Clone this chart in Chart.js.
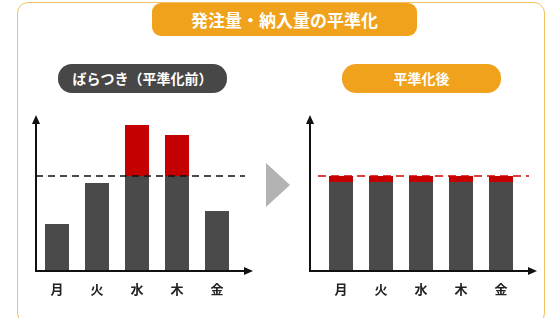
<!DOCTYPE html>
<html>
<head>
<meta charset="utf-8">
<script src="https://cdn.jsdelivr.net/npm/chart.js@4/dist/chart.umd.min.js"></script>
<style>
  body { margin: 0; width: 557px; height: 318px; background: #fff; position: relative; overflow: hidden;
         font-family: "Noto Sans CJK JP", "Noto Sans", sans-serif; }
  .frame { position: absolute; left: 17px; top: 2px; width: 526px; height: 320px;
           border: 1.5px solid #f5c160; border-radius: 11px; background: #fff; }
  .badge { position: absolute; color: #fff; font-weight: bold; text-align: center; }
  #title { left: 152px; top: 3px; width: 265px; height: 33px; line-height: 33px; font-size: 17px;
           background: #f0a21c; border-radius: 9px; }
  #before { left: 58px; top: 64px; width: 169px; height: 29px; line-height: 29px; font-size: 14px;
            background: #474747; border-radius: 14px; }
  #after { left: 342px; top: 64px; width: 159px; height: 29px; line-height: 29px; font-size: 14px;
           background: #f0a21c; border-radius: 14px; }
  .arrow { position: absolute; left: 266px; top: 163px; width: 0; height: 0;
           border-top: 22px solid transparent; border-bottom: 22px solid transparent;
           border-left: 24px solid #b3b3b3; }
  canvas { position: absolute; }
  #beforeChart { left: 20px; top: 105px; }
  #afterChart { left: 290px; top: 105px; }
</style>
</head>
<body>
<div class="frame"></div>
<div class="badge" id="title">発注量・納入量の平準化</div>
<div class="badge" id="before">ばらつき（平準化前）</div>
<div class="badge" id="after">平準化後</div>
<div class="arrow"></div>
<canvas id="beforeChart" width="240" height="200"></canvas>
<canvas id="afterChart" width="260" height="200"></canvas>
<script>
// ----data---------
const days = ["月", "火", "水", "木", "金"];
const beforeBase = [4.7, 8.8, 9.5, 9.5, 6.0];
const beforeOver = [0, 0, 5.1, 4.1, 0];
const afterBase = [8.9, 8.9, 8.9, 8.9, 8.9];
const afterTop = [0.6, 0.6, 0.6, 0.6, 0.6];
const levelLine = 9.5;
const yMax = 15.6;

Chart.defaults.font.family = '"Noto Sans CJK JP", "Noto Sans", sans-serif';

// axes with arrows + horizontal dashed level line
const axesPlugin = {
  id: "axesArrows",
  afterDraw(chart, args, opts) {
    const ctx = chart.ctx;
    const area = chart.chartArea;
    const y = chart.scales.y.getPixelForValue(opts.level);
    const ax = area.left - opts.gap;
    const xEnd = area.right + 16;

    // level line
    ctx.save();
    ctx.strokeStyle = opts.lineColor;
    ctx.lineWidth = 1.6;
    ctx.setLineDash(opts.dash);
    ctx.beginPath();
    ctx.moveTo(area.left - opts.lineStart, y);
    ctx.lineTo(area.right + 8, y);
    ctx.stroke();
    ctx.restore();

    // axes
    ctx.save();
    ctx.strokeStyle = "#111";
    ctx.fillStyle = "#111";
    ctx.lineWidth = 2;
    ctx.beginPath();
    ctx.moveTo(ax, area.top + 6);
    ctx.lineTo(ax, area.bottom);
    ctx.lineTo(xEnd - 6, area.bottom);
    ctx.stroke();
    ctx.beginPath();
    ctx.moveTo(ax, area.top);
    ctx.lineTo(ax - 4, area.top + 9);
    ctx.lineTo(ax + 4, area.top + 9);
    ctx.closePath();
    ctx.fill();
    ctx.beginPath();
    ctx.moveTo(xEnd, area.bottom);
    ctx.lineTo(xEnd - 9, area.bottom - 4);
    ctx.lineTo(xEnd - 9, area.bottom + 4);
    ctx.closePath();
    ctx.fill();
    ctx.restore();
  },
};

function makeChart(el, base, top, topColor, pad, axisOpts) {
  return new Chart(document.getElementById(el), {
    type: "bar",
    data: {
      labels: days,
      datasets: [
        { data: base, backgroundColor: "#4a4a4a", barPercentage: 0.6, categoryPercentage: 1.0 },
        { data: top, backgroundColor: topColor, barPercentage: 0.6, categoryPercentage: 1.0 },
      ],
    },
    options: {
      responsive: false,
      animation: false,
      layout: { padding: pad },
      scales: {
        x: {
          stacked: true,
          grid: { display: false, drawTicks: false },
          border: { display: false },
          ticks: { color: "#222", padding: 10, font: { size: 13, weight: "bold" } },
          afterFit(scale) { scale.height = 34; },
        },
        y: { stacked: true, display: false, min: 0, max: yMax },
      },
      plugins: {
        legend: { display: false },
        tooltip: { enabled: false },
        axesArrows: axisOpts,
      },
    },
    plugins: [axesPlugin],
  });
}

const beforeChart = makeChart("beforeChart", beforeBase, beforeOver, "#c40000",
  { left: 17, right: 23, top: 10, bottom: 0 },
  { level: levelLine, gap: 1, lineStart: 1, dash: [7, 5], lineColor: "#111" });

const afterChart = makeChart("afterChart", afterBase, afterTop, "#c40000",
  { left: 31, right: 29, top: 10, bottom: 0 },
  { level: levelLine, gap: 11, lineStart: 3, dash: [8, 5], lineColor: "#d40000" });
</script>
</body>
</html>
